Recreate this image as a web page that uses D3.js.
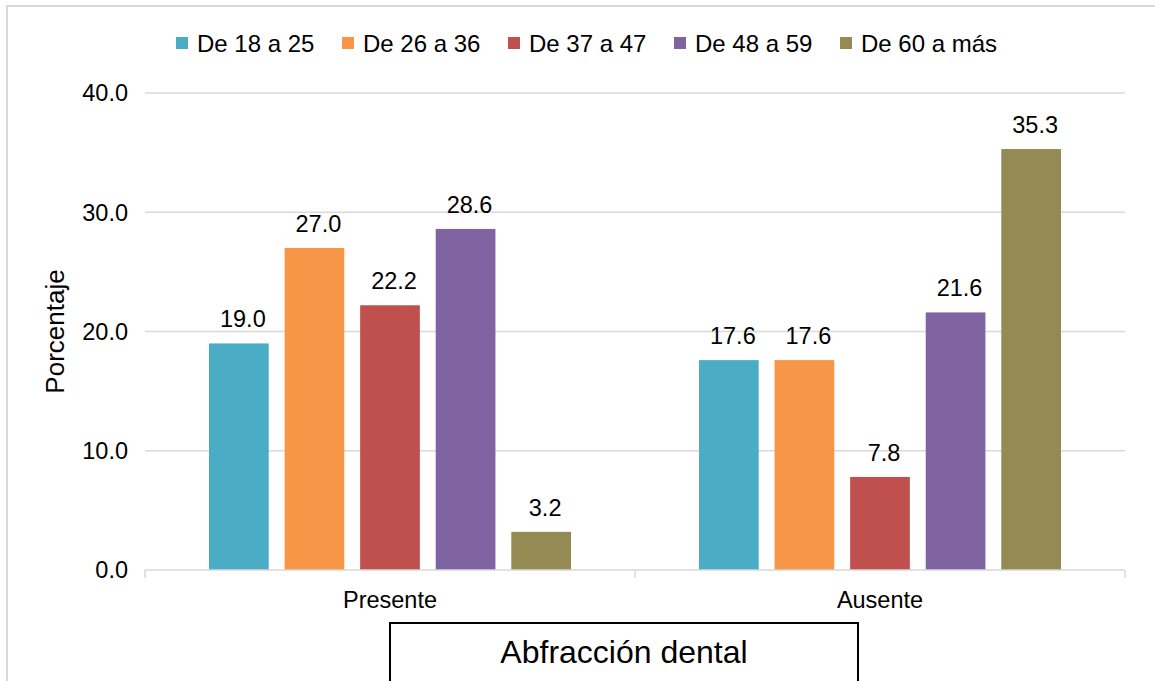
<!DOCTYPE html>
<html>
<head>
<meta charset="utf-8">
<script src="https://cdn.jsdelivr.net/npm/d3@7"></script>
<style>
  html, body { margin: 0; padding: 0; background: #fff; }
  svg { display: block; font-family: "Liberation Sans", Arial, sans-serif; }
</style>
</head>
<body>
<svg id="chart" width="1155" height="681"></svg>
<script>
// Abfracción dental por grupo de edad (porcentaje)
const categories = ["Presente", "Ausente"];
const groups = ["De 18 a 25", "De 26 a 36", "De 37 a 47", "De 48 a 59", "De 60 a más"];
const valuesPresente = [19.0, 27.0, 22.2, 28.6, 3.2];
const valuesAusente = [17.6, 17.6, 7.8, 21.6, 35.3];
const yTicks = [0, 10, 20, 30, 40];
const colors = ["#4BACC6", "#F79646", "#C0504D", "#8064A2", "#948A54"];
const axisTitle = "Porcentaje";
const boxTitle = "Abfracción dental";

const seriesByCategory = { "Presente": valuesPresente, "Ausente": valuesAusente };

const svg = d3.select("#chart");

// outer frame (only left and top edges fall inside the view)
svg.append("path")
  .attr("d", "M7,700 L7,6 L1170,6")
  .attr("fill", "none")
  .attr("stroke", "#d9d9d9")
  .attr("stroke-width", 2);

const plot = { left: 145, right: 1125, top: 93, bottom: 570 };

const y = d3.scaleLinear().domain([0, 40]).range([plot.bottom, plot.top]);
const x0 = d3.scaleBand().domain(categories).range([plot.left, plot.right]).padding(0);
const x1 = d3.scaleBand().domain(groups).range([64, x0.bandwidth() - 64]).paddingInner(0.21).paddingOuter(0);

// gridlines
svg.append("g")
  .selectAll("line")
  .data(yTicks.filter(t => t > 0))
  .join("line")
  .attr("x1", plot.left).attr("x2", plot.right)
  .attr("y1", d => y(d)).attr("y2", d => y(d))
  .attr("stroke", "#d9d9d9").attr("stroke-width", 1.5);

// y axis tick labels
svg.append("g")
  .selectAll("text")
  .data(yTicks)
  .join("text")
  .attr("x", 128)
  .attr("y", d => y(d))
  .attr("dy", "0.36em")
  .attr("text-anchor", "end")
  .attr("font-size", 23.5)
  .attr("fill", "#000")
  .text(d => d3.format(".1f")(d));

// bars
const gCat = svg.append("g")
  .selectAll("g")
  .data(categories)
  .join("g")
  .attr("transform", d => `translate(${x0(d)},0)`);

gCat.selectAll("rect")
  .data(c => seriesByCategory[c].map((v, i) => ({ group: groups[i], value: v, i })))
  .join("rect")
  .attr("x", d => x1(d.group))
  .attr("width", x1.bandwidth())
  .attr("y", d => y(d.value))
  .attr("height", d => y(0) - y(d.value))
  .attr("fill", d => colors[d.i]);

// value labels
gCat.selectAll("text.val")
  .data(c => seriesByCategory[c].map((v, i) => ({ group: groups[i], value: v, i })))
  .join("text")
  .attr("class", "val")
  .attr("x", d => x1(d.group) + x1.bandwidth() / 2 + 4)
  .attr("y", d => y(d.value) - 16)
  .attr("text-anchor", "middle")
  .attr("font-size", 23.5)
  .attr("fill", "#000")
  .text(d => d3.format(".1f")(d.value));

// x axis line and ticks
const xAxis = svg.append("g");
xAxis.append("line")
  .attr("x1", plot.left).attr("x2", plot.right)
  .attr("y1", plot.bottom).attr("y2", plot.bottom)
  .attr("stroke", "#d9d9d9").attr("stroke-width", 1.5);
const tickXs = categories.map(c => x0(c)).concat([plot.right]);
xAxis.selectAll("line.tick")
  .data(tickXs)
  .join("line")
  .attr("class", "tick")
  .attr("x1", d => d).attr("x2", d => d)
  .attr("y1", plot.bottom).attr("y2", plot.bottom + 8)
  .attr("stroke", "#d9d9d9").attr("stroke-width", 1.5);
xAxis.selectAll("text")
  .data(categories)
  .join("text")
  .attr("x", d => x0(d) + x0.bandwidth() / 2)
  .attr("y", 608)
  .attr("text-anchor", "middle")
  .attr("font-size", 23.5)
  .attr("fill", "#000")
  .text(d => d);

// y axis title
svg.append("text")
  .attr("transform", `translate(64,${(plot.top + plot.bottom) / 2}) rotate(-90)`)
  .attr("text-anchor", "middle")
  .attr("font-size", 26)
  .attr("fill", "#000")
  .text(axisTitle);

// legend
const legendX = [176, 342, 508, 674, 840];
const legend = svg.append("g")
  .selectAll("g")
  .data(groups)
  .join("g")
  .attr("transform", (d, i) => `translate(${legendX[i]},43)`);
legend.append("rect")
  .attr("x", 0).attr("y", -6)
  .attr("width", 12).attr("height", 12)
  .attr("fill", (d, i) => colors[i]);
legend.append("text")
  .attr("x", 21)
  .attr("dy", "0.36em")
  .attr("font-size", 24)
  .attr("fill", "#000")
  .text(d => d);

// bottom title box
svg.append("rect")
  .attr("x", 390).attr("y", 623)
  .attr("width", 468).attr("height", 80)
  .attr("fill", "#fff")
  .attr("stroke", "#000").attr("stroke-width", 2);
svg.append("text")
  .attr("x", 624).attr("y", 663)
  .attr("text-anchor", "middle")
  .attr("font-size", 32)
  .attr("fill", "#000")
  .text(boxTitle);
</script>
</body>
</html>
